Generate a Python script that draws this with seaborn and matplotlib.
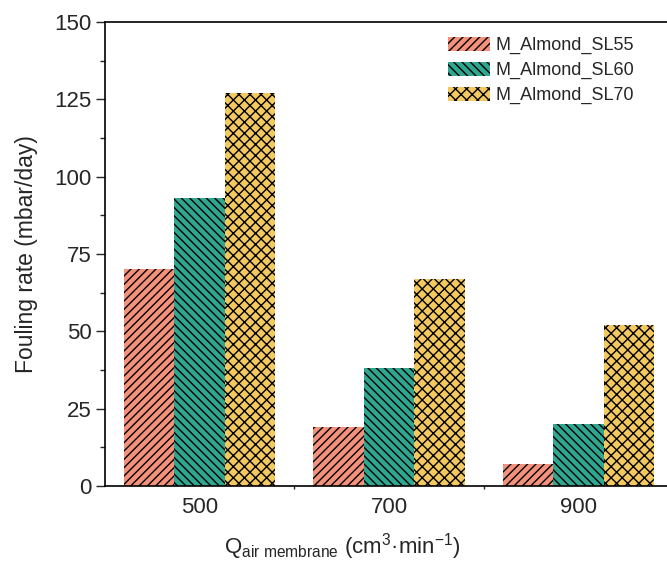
import matplotlib
matplotlib.use("Agg")
import matplotlib.pyplot as plt
import seaborn as sns
import pandas as pd
from matplotlib.ticker import MultipleLocator, FixedLocator

flow = ["500", "700", "900"]
series = ["M_Almond_SL55", "M_Almond_SL60", "M_Almond_SL70"]
sl55 = [70, 19, 7]
sl60 = [93, 38, 20]
sl70 = [127, 67, 52]
colors = ["#F4917B", "#2FA68F", "#F3C85F"]
hatches = ["////", "\\\\\\\\", "xxx"]

rows = []
for name, vals in zip(series, [sl55, sl60, sl70]):
    for f, v in zip(flow, vals):
        rows.append({"Q": f, "rate": v, "series": name})
df = pd.DataFrame(rows)

sns.set_style("ticks")
plt.rcParams["font.family"] = ["Liberation Sans", "DejaVu Sans"]
plt.rcParams["mathtext.fontset"] = "custom"
plt.rcParams["mathtext.rm"] = "Liberation Sans"
plt.rcParams["mathtext.it"] = "Liberation Sans:italic"
plt.rcParams["hatch.linewidth"] = 1.0

fig = plt.figure(figsize=(6.67, 5.64), dpi=100)
ax = fig.add_axes([105/667, 1-486/564, (673-105)/667, (486-22)/564])

sns.barplot(data=df, x="Q", y="rate", hue="series", palette=colors,
            order=flow, hue_order=series, width=0.8, ax=ax, errorbar=None,
            saturation=1, linewidth=0, edgecolor="black")

for container, h, c in zip(ax.containers, hatches, colors):
    for patch in container:
        patch.set_hatch(h)
        patch.set_facecolor(c)
        patch.set_edgecolor("black")
        patch.set_linewidth(0)

ax.set_xlim(-0.5, 2.5)
ax.set_ylim(0, 150)
ax.yaxis.set_major_locator(MultipleLocator(25))
ax.yaxis.set_minor_locator(MultipleLocator(12.5))
ax.xaxis.set_minor_locator(FixedLocator([0.5, 1.5]))

for s in ["left", "bottom", "top", "right"]:
    ax.spines[s].set_linewidth(1.2)
    ax.spines[s].set_color("black")

ax.tick_params(axis="y", which="major", direction="out", length=6.5, width=1.0, labelsize=16, pad=3)
ax.tick_params(axis="y", which="minor", direction="out", length=3.5, width=1.0)
ax.tick_params(axis="x", which="major", direction="out", length=0, labelsize=16, pad=8)
ax.tick_params(axis="x", which="minor", direction="out", length=2, width=1.0)

ax.set_ylabel("Fouling rate (mbar/day)", fontsize=16.5, labelpad=12)
ax.set_xlabel(r"Q$_{\mathrm{air\ membrane}}$ (cm$^{3}$·min$^{-1}$)", fontsize=16)
ax.xaxis.set_label_coords((342 - 105) / 568, -0.098)

leg = ax.legend(loc="upper left", bbox_to_anchor=(448/667, 1-37/564),
                bbox_transform=fig.transFigure, frameon=False, fontsize=13,
                handlelength=2.3, handleheight=0.8, labelspacing=0.42,
                handletextpad=0.35, borderaxespad=0, borderpad=0)
for hnd, h, c in zip(leg.legend_handles, hatches, colors):
    hnd.set_hatch(h)
    hnd.set_facecolor(c)
    hnd.set_edgecolor("black")
    hnd.set_linewidth(0)

fig.savefig("out.png", dpi=100)
